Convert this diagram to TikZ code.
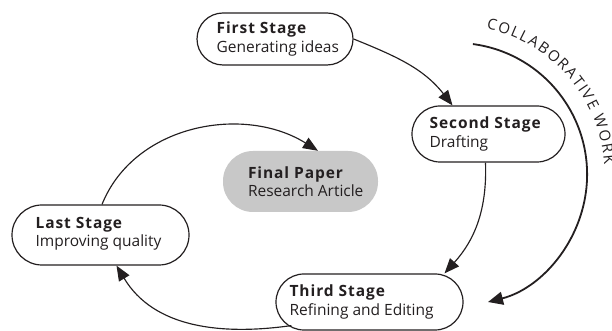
\documentclass[tikz,border=0pt]{standalone}
\usepackage{fontspec}
\setmainfont{Open Sans}
\newfontfamily\headfont[LetterSpace=6]{Open Sans}
\usetikzlibrary{arrows.meta,calc}
\definecolor{ink}{HTML}{231F20}
\definecolor{paper}{HTML}{C8C8C8}
\newcommand\hd[1]{{\headfont\bfseries #1}}
\newcommand\cfont{\fontsize{15}{17}\selectfont}
\tikzset{
  stagebox/.style={draw=ink, line width=1.2pt, rounded corners=#1, inner sep=0pt},
  finalbox/.style={fill=paper, rounded corners=30pt, inner sep=0pt},
  label text/.style={anchor=west, align=left, inner sep=0pt, text=ink,
    font=\fontsize{15.5}{18.5}\selectfont},
  flow/.style={draw=ink, line width=1.15pt, -{Triangle[length=15pt,width=12pt]}},
  collab/.style={draw=ink, line width=1.8pt, -{Triangle[length=15pt,width=13pt]}},
  arcchar/.style={anchor=base, inner sep=0pt, text=ink, font=\cfont}
}
\begin{document}
\begin{tikzpicture}[x=1pt,y=1pt]
\useasboundingbox (0,0) rectangle (612,331);
% boxes
\node[stagebox=26pt, minimum width=156pt, minimum height=52pt] (first) at (275,292) {};
\node[stagebox=28pt, minimum width=153pt, minimum height=56pt] (second) at (488.5,197) {};
\node[stagebox=28pt, minimum width=187pt, minimum height=56pt] (third) at (369.5,29) {};
\node[stagebox=30pt, minimum width=177pt, minimum height=60pt] (last) at (100.5,96) {};
\node[finalbox, minimum width=155pt, minimum height=61pt] (final) at (300.5,149.5) {};
% texts
\node[label text] (firstT) at ($(first.west)+(20pt,0pt)$) {\hd{First Stage}\\Generating ideas};
\node[label text] (secondT) at ($(second.west)+(18pt,0pt)$) {\hd{Second Stage}\\Drafting};
\node[label text] (thirdT) at ($(third.west)+(14pt,0pt)$) {\hd{Third Stage}\\Refining and Editing};
\node[label text] (lastT) at ($(last.west)+(24pt,1pt)$) {\hd{Last Stage}\\Improving quality};
\node[label text] (finalT) at ($(final.west)+(25pt,0pt)$) {\hd{Final Paper}\\Research Article};
% connectors
\draw[flow] (first.east) to[out=-22, in=128] ([xshift=-36pt]second.north);
\draw[flow] ([xshift=-3pt]second.south) to[out=-88, in=48] ([xshift=75pt]third.north);
\draw[flow] ([shift={(16pt,5pt)}]third.south west) to[out=188, in=-59] ([xshift=16pt]last.south);
\draw[flow] ([xshift=1.5pt]last.north) to[out=68, in=148] ([xshift=17.5pt]final.north);
% collaborative work
\coordinate (cc) at (455.5,156.5);
\coordinate (cstart) at ($(cc)+(82.4:131.6)$);
\draw[collab] (cstart) arc[start angle=82.4, end angle=-75.7, radius=131.6pt];
\gdef\cumglob{0}
\foreach \ch/\w [count=\i] in {C/0.634,O/0.781,L/0.533,L/0.533,A/0.661,B/0.672,O/0.781,R/0.644,A/0.661,T/0.559,I/0.279,V/0.624,E/0.556,{}/0.26,W/0.948,O/0.781,R/0.644,K/0.634} {
  \pgfmathsetmacro\adv{\w*15+1.5}
  \pgfmathsetmacro\ang{78.3-(\cumglob+\adv/2)/149*180/pi}
  \pgfmathsetmacro\newcum{\cumglob+\adv}
  \xdef\cumglob{\newcum}
  \node[arcchar, rotate=\ang-90] (arc\i) at ($(cc)+(\ang:149pt)$) {\ch};
}
\end{tikzpicture}
\end{document}
